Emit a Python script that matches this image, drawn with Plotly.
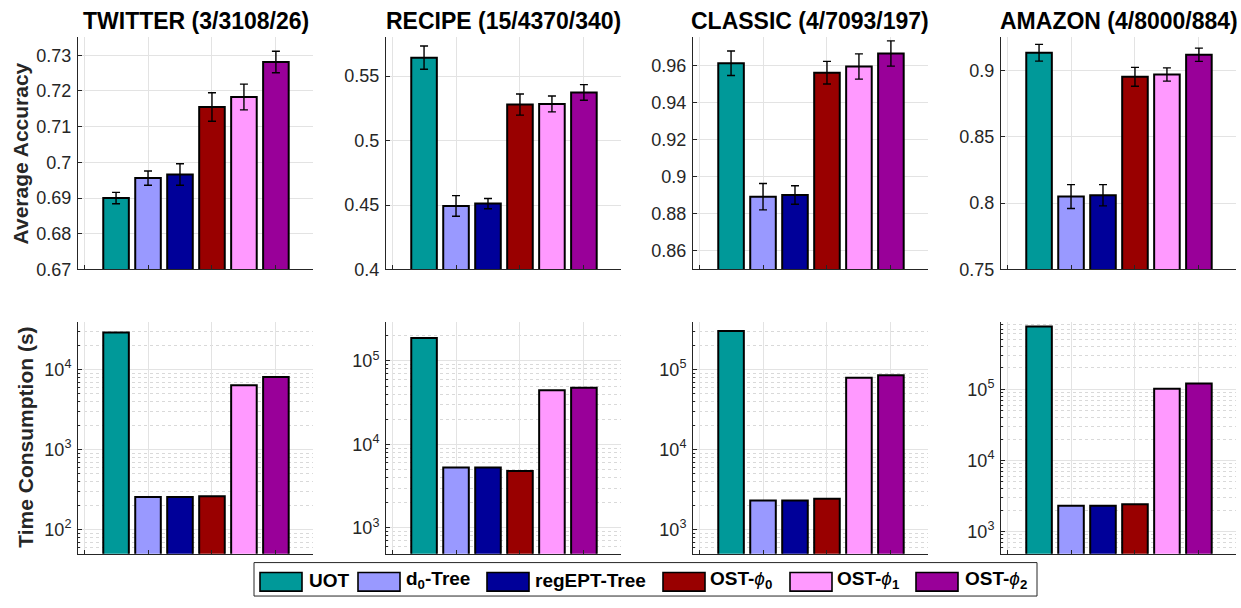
import plotly.graph_objects as go

W, H = 1241, 608

# ---------------- data ----------------
PHI = "<span style='font-weight:normal'><i>ϕ</i></span>"
methods = ["UOT", "d<sub>0</sub>-Tree", "regEPT-Tree",
           f"OST-{PHI}<sub>0</sub>", f"OST-{PHI}<sub>1</sub>", f"OST-{PHI}<sub>2</sub>"]
colors = ["#009999", "#9999FF", "#000099", "#990000", "#FF99FF", "#990099"]
datasets = ["TWITTER (3/3108/26)", "RECIPE (15/4370/340)",
            "CLASSIC (4/7093/197)", "AMAZON (4/8000/884)"]
positions = [1, 2, 3, 4, 5, 6]

acc_twitter = [0.6900, 0.6956, 0.6966, 0.7155, 0.7183, 0.7281]
acc_twitter_err = [0.0016, 0.0020, 0.0030, 0.0040, 0.0036, 0.0030]
acc_recipe = [0.5643, 0.4493, 0.4511, 0.5279, 0.5284, 0.5373]
acc_recipe_err = [0.0090, 0.0080, 0.0040, 0.0082, 0.0062, 0.0061]
acc_classic = [0.9611, 0.8892, 0.8901, 0.9560, 0.9593, 0.9663]
acc_classic_err = [0.0066, 0.0071, 0.0050, 0.0061, 0.0068, 0.0068]
acc_amazon = [0.9134, 0.8050, 0.8060, 0.8953, 0.8970, 0.9119]
acc_amazon_err = [0.0063, 0.0090, 0.0080, 0.0071, 0.0050, 0.0050]

time_twitter = [29100, 257, 257, 262, 6400, 8100]
time_recipe = [188000, 5300, 5300, 4800, 44400, 47700]
time_classic = [304000, 2320, 2320, 2430, 79100, 85100]
time_amazon = [763000, 2310, 2310, 2430, 102000, 120000]

acc_ticks_twitter = [0.67, 0.68, 0.69, 0.70, 0.71, 0.72, 0.73]
acc_ticks_recipe = [0.40, 0.45, 0.50, 0.55]
acc_ticks_classic = [0.86, 0.88, 0.90, 0.92, 0.94, 0.96]
acc_ticks_amazon = [0.75, 0.80, 0.85, 0.90]
acc_ticktext_twitter = ["0.67", "0.68", "0.69", "0.7", "0.71", "0.72", "0.73"]
acc_ticktext_recipe = ["0.4", "0.45", "0.5", "0.55"]
acc_ticktext_classic = ["0.86", "0.88", "0.9", "0.92", "0.94", "0.96"]
acc_ticktext_amazon = ["0.75", "0.8", "0.85", "0.9"]

time_exps_twitter = [2, 3, 4]
time_exps_recipe = [3, 4, 5]
time_exps_classic = [3, 4, 5]
time_exps_amazon = [3, 4, 5]

acc_values = [acc_twitter, acc_recipe, acc_classic, acc_amazon]
acc_errors = [acc_twitter_err, acc_recipe_err, acc_classic_err, acc_amazon_err]
acc_ticks = [acc_ticks_twitter, acc_ticks_recipe, acc_ticks_classic, acc_ticks_amazon]
acc_ticktexts = [acc_ticktext_twitter, acc_ticktext_recipe, acc_ticktext_classic, acc_ticktext_amazon]
time_values = [time_twitter, time_recipe, time_classic, time_amazon]
time_exps = [time_exps_twitter, time_exps_recipe, time_exps_classic, time_exps_amazon]

# ---------------- layout constants ----------------
acc_ranges = [[0.67, 0.735], [0.40, 0.58], [0.85, 0.975], [0.75, 0.925]]
time_ranges = [[1.70, 4.60], [2.69, 5.47], [2.70, 5.60], [2.69, 5.95]]
panel_left = [78, 386, 693, 1001]
panel_w = 235
top_px = (38, 274)
bot_px = (327, 563)
x_range = [-0.19, 7.16]

FONT = "Liberation Sans, Arial, Helvetica, sans-serif"
AXC = "#262626"
GRID = "#e3e3e3"
MINOR = "#d9d9d9"


def fx(px):
    return px / W


def fy(py):
    return 1 - py / H


fig = go.Figure()
layout = dict(
    width=W, height=H,
    margin=dict(l=0, r=0, t=0, b=0),
    paper_bgcolor="white", plot_bgcolor="white",
    showlegend=False,
    font=dict(family=FONT, color=AXC, size=18),
    bargap=0.2,
)

annotations = []
shapes = []

for i in range(4):
    ta = i + 1
    ba = i + 5
    xd = [fx(panel_left[i]), fx(panel_left[i] + panel_w)]

    fig.add_trace(go.Bar(
        x=positions, y=acc_values[i], width=0.8,
        marker=dict(color=colors, line=dict(color="black", width=2)),
        error_y=dict(type="data", array=acc_errors[i], color="black",
                     thickness=1.4, width=4),
        xaxis=f"x{ta}", yaxis=f"y{ta}",
    ))
    fig.add_trace(go.Bar(
        x=positions, y=time_values[i], width=0.8,
        marker=dict(color=colors, line=dict(color="black", width=2)),
        xaxis=f"x{ba}", yaxis=f"y{ba}",
    ))

    common_x = dict(
        domain=xd, range=x_range, tickvals=[0, 2, 4, 6], showticklabels=False,
        showgrid=True, gridcolor=GRID, gridwidth=1, zeroline=False,
        showline=True, linecolor=AXC, linewidth=1,
        ticks="inside", ticklen=4, tickcolor=AXC, fixedrange=True,
    )
    layout[f"xaxis{ta}"] = dict(common_x, anchor=f"y{ta}")
    layout[f"xaxis{ba}"] = dict(common_x, anchor=f"y{ba}")

    layout[f"yaxis{ta}"] = dict(
        domain=[fy(top_px[1]), fy(top_px[0])], range=acc_ranges[i],
        tickvals=acc_ticks[i], ticktext=acc_ticktexts[i],
        showgrid=True, gridcolor=GRID, zeroline=False,
        showline=True, linecolor=AXC, linewidth=1,
        ticks="inside", ticklen=4, tickcolor=AXC,
        tickfont=dict(size=18, color=AXC, family=FONT),
        anchor=f"x{ta}", ticklabelstandoff=2,
    )

    lo, hi = time_ranges[i]
    minor_vals = []
    for e in range(int(lo) - 1, int(hi) + 2):
        for k in range(2, 10):
            minor_vals.append(k * 10 ** e)
    layout[f"yaxis{ba}"] = dict(
        type="log", domain=[fy(bot_px[1]), fy(bot_px[0])], range=[lo, hi],
        tickvals=[10 ** e for e in time_exps[i]],
        ticktext=[f"10<sup>{e}</sup>" for e in time_exps[i]],
        showgrid=True, gridcolor=GRID, zeroline=False,
        showline=True, linecolor=AXC, linewidth=1,
        ticks="inside", ticklen=4, tickcolor=AXC,
        tickfont=dict(size=18, color=AXC, family=FONT),
        minor=dict(tickvals=minor_vals, showgrid=True, gridcolor=MINOR,
                   griddash="dot", gridwidth=1, ticks="inside", ticklen=2,
                   tickcolor=AXC),
        anchor=f"x{ba}", ticklabelstandoff=2,
    )

    annotations.append(dict(
        text=datasets[i], x=fx(panel_left[i] + panel_w / 2), y=fy(21),
        xref="paper", yref="paper", xanchor="center", yanchor="middle",
        showarrow=False,
        font=dict(family=FONT, size=23, color="black", weight="bold"),
    ))

annotations.append(dict(
    text="Average Accuracy", x=fx(20), y=fy((top_px[0] + top_px[1]) / 2),
    xref="paper", yref="paper", xanchor="center", yanchor="middle",
    textangle=-90, showarrow=False,
    font=dict(family=FONT, size=21, color=AXC, weight="bold"),
))
annotations.append(dict(
    text="Time Consumption (s)", x=fx(26), y=fy((bot_px[0] + bot_px[1]) / 2),
    xref="paper", yref="paper", xanchor="center", yanchor="middle",
    textangle=-90, showarrow=False,
    font=dict(family=FONT, size=21, color=AXC, weight="bold"),
))

# legend (drawn manually to match the boxed swatches)
leg_box = (254, 572, 1037, 606)
leg_swatch_x = [260, 358, 487, 663, 790, 916]
leg_text_x = [307, 404, 533, 708, 835, 963]
shapes.append(dict(type="rect", xref="paper", yref="paper",
                   x0=fx(leg_box[0]), x1=fx(leg_box[2]),
                   y0=fy(leg_box[3]), y1=fy(leg_box[1]),
                   line=dict(color=AXC, width=1), fillcolor="white", layer="above"))
for j in range(6):
    shapes.append(dict(type="rect", xref="paper", yref="paper",
                       x0=fx(leg_swatch_x[j]), x1=fx(leg_swatch_x[j] + 42),
                       y0=fy(601), y1=fy(582),
                       line=dict(color="black", width=1.6), fillcolor=colors[j],
                       layer="above"))
    annotations.append(dict(
        text=methods[j], x=fx(leg_text_x[j]), y=fy(590),
        xref="paper", yref="paper", xanchor="left", yanchor="middle",
        showarrow=False,
        font=dict(family=FONT, size=19, color="black", weight="bold"),
    ))

layout["annotations"] = annotations
layout["shapes"] = shapes
fig.update_layout(**layout)
fig.write_html("out.html")
